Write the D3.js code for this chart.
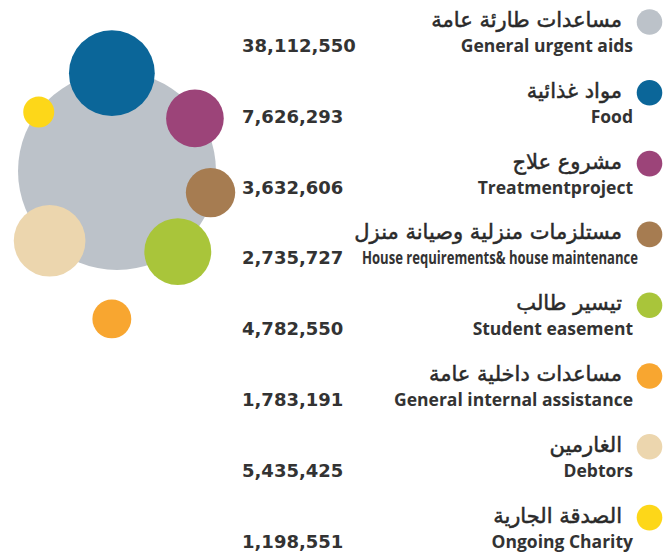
<!DOCTYPE html>
<html>
	<head>
		<meta charset="utf-8"/>
		<script type="text/javascript" src="https://cdn.jsdelivr.net/npm/d3@7"></script>
		<style>
			body {
				margin:0;
				background:#fff;
			}
			.ar {
				fill:#2a2a2a;
				stroke:#2a2a2a;
				stroke-width:0.5px;
				font:21px "DejaVu Sans", sans-serif;
				text-anchor:end;
			}
			.en {
				fill:#333;
				font:bold 17.5px "Open Sans", sans-serif;
				text-anchor:end;
			}
			.val {
				fill:#333;
				font:bold 18px "DejaVu Sans", sans-serif;
				text-anchor:start;
			}
		</style>
	</head>
	<body>
		<script>
			var names_ar = ["مساعدات طارئة عامة", "مواد غذائية", "مشروع علاج", "مستلزمات منزلية وصيانة منزل",
				"تيسير طالب", "مساعدات داخلية عامة", "الغارمين", "الصدقة الجارية"];
			var names_en = ["General urgent aids", "Food", "Treatmentproject", "House requirements& house maintenance",
				"Student easement", "General internal assistance", "Debtors", "Ongoing Charity"];
			var values = [38112550, 7626293, 3632606, 2735727, 4782550, 1783191, 5435425, 1198551];
			var colors = ["#bcc2c9", "#0b6699", "#9c4479", "#a67c51", "#a9c53a", "#f8a630", "#ecd6ae", "#fdd719"];

			// hand placed bubble spots: angle (deg) and distance from the big bubble centre
			var spots = [[0, 0], [-93, 98], [-34, 94], [13, 96], [53, 101], [92, 148], [134, 97], [-143, 98]];

			var width = 664, height = 554;
			var cx = 117, cy = 171;
			var leg_x = 649.5, leg_top = 22, leg_step = 70.8;
			var fmt = d3.format(",");

			var svg = d3.select("body").append("svg")
				.attr("width", width)
				.attr("height", height);

			var r = d3.scaleSqrt()
				.domain([d3.min(values), d3.max(values)])
				.range([15.5, 99]);

			var idx = d3.range(values.length);

			svg.selectAll("circle.bubble")
				.data(idx)
				.enter().append("circle")
				.attr("class", "bubble")
				.attr("cx", function(i) { return cx + spots[i][1] * Math.cos(spots[i][0] * Math.PI / 180); })
				.attr("cy", function(i) { return cy + spots[i][1] * Math.sin(spots[i][0] * Math.PI / 180); })
				.attr("r", function(i) { return r(values[i]); })
				.attr("fill", function(i) { return colors[i]; });

			var y = d3.scaleLinear()
				.domain([0, 1])
				.range([leg_top, leg_top + leg_step]);

			var leg = svg.selectAll("g.item")
				.data(idx)
				.enter().append("g")
				.attr("class", "item")
				.attr("transform", function(i) { return "translate(0," + y(i) + ")"; });

			leg.append("circle")
				.attr("cx", leg_x)
				.attr("r", 12.8)
				.attr("fill", function(i) { return colors[i]; });

			leg.append("text")
				.attr("class", "ar")
				.attr("x", 622)
				.attr("y", 5)
				.text(function(i) { return names_ar[i]; });

			// long english names get squeezed, like the condensed one in the original
			leg.append("text")
				.attr("class", "en")
				.attr("x", 633)
				.attr("y", 30)
				.text(function(i) { return names_en[i]; })
				.each(function() {
					if (this.getComputedTextLength() > 276) {
						d3.select(this)
							.attr("x", 638)
							.attr("textLength", 276)
							.attr("lengthAdjust", "spacingAndGlyphs");
					}
				});

			leg.append("text")
				.attr("class", "val")
				.attr("x", 242)
				.attr("y", 30)
				.text(function(i) { return fmt(values[i]); });
		</script>
	</body>
</html>
